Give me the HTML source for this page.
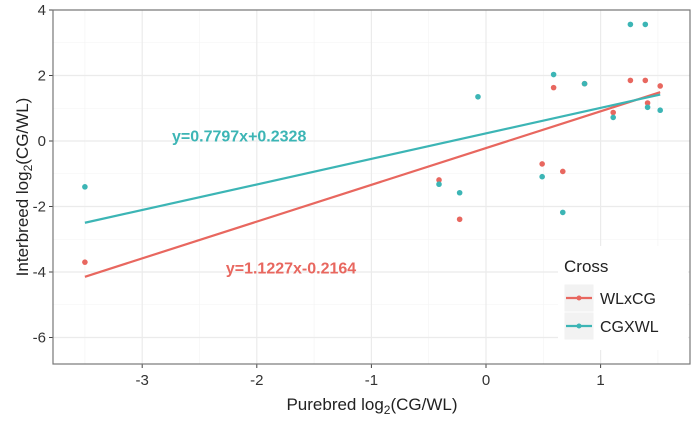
<!DOCTYPE html>
<html><head><meta charset="utf-8"><style>
body{margin:0;background:#fff;font-family:"Liberation Sans",sans-serif}
svg text{font-family:"Liberation Sans",sans-serif}
</style></head><body>
<svg id="c" width="694" height="418" xmlns="http://www.w3.org/2000/svg"></svg>
<script>
const xs=[-3.5,-0.41,-0.23,-0.07,0.49,0.59,0.67,0.86,1.11,1.26,1.39,1.41,1.52];
const wl=[-3.7,-1.19,-2.39,null,-0.70,1.63,-0.93,1.75,0.87,1.85,1.85,1.16,1.68];
const cg=[-1.4,-1.32,-1.58,1.35,-1.09,2.03,-2.18,1.75,0.72,3.56,3.56,1.03,0.94];
const xTicks=[-3,-2,-1,0,1];
const yTicks=[4,2,0,-2,-4,-6];
const fits=[{name:'WLxCG',m:1.1227,b:-0.2164,color:'#e8675f',label:'y=1.1227x-0.2164',lx:-2.27,ly:-4.05},
            {name:'CGXWL',m:0.7797,b:0.2328,color:'#3cb5b5',label:'y=0.7797x+0.2328',lx:-2.74,ly:-0.02}];
const L=53,R=690,T=10,B=364;
const X=v=>486+v*114.6, Y=v=>141-v*32.75;
const svg=document.getElementById('c');const NS='http://www.w3.org/2000/svg';
function mk(t,a,txt){const e=document.createElementNS(NS,t);for(const k in a)e.setAttribute(k,a[k]);if(txt!=null)e.textContent=txt;svg.appendChild(e);return e;}
let e=mk('rect',{x:L,y:T,width:R-L,height:B-T,fill:'#fff'});

[-3.5,-2.5,-1.5,-0.5,0.5,1.5].forEach(v=>{mk('line',{x1:X(v),x2:X(v),y1:T,y2:B,stroke:'#f3f3f3','stroke-width':0.6});});
[3,1,-1,-3,-5].forEach(v=>{mk('line',{x1:L,x2:R,y1:Y(v),y2:Y(v),stroke:'#f3f3f3','stroke-width':0.6});});
xTicks.forEach(v=>{e=mk('line',{x1:X(v),x2:X(v),y1:T,y2:B,stroke:'#ebebeb','stroke-width':1.2});
 
 mk('line',{x1:X(v),x2:X(v),y1:B,y2:B+4,stroke:'#444'});
 e=mk('text',{x:X(v),y:B+21,'text-anchor':'middle','font-size':15,fill:'#333'},v);
 });
yTicks.forEach(v=>{e=mk('line',{x1:L,x2:R,y1:Y(v),y2:Y(v),stroke:'#ebebeb','stroke-width':1.2});
 
 mk('line',{x1:L-4,x2:L,y1:Y(v),y2:Y(v),stroke:'#444'});
 e=mk('text',{x:L-7,y:Y(v)+5,'text-anchor':'end','font-size':15,fill:'#333'},v);
 });
const minX=Math.min(...xs),maxX=Math.max(...xs);
fits.forEach(f=>{e=mk('line',{x1:X(minX),y1:Y(f.m*minX+f.b),x2:X(maxX),y2:Y(f.m*maxX+f.b),stroke:f.color,'stroke-width':2.2});
 
 e=mk('text',{x:X(f.lx),y:Y(f.ly),'font-size':16,'font-weight':'bold',fill:f.color},f.label);
 });
[[wl,fits[0].color,'point-wlxcg'],[cg,fits[1].color,'point-cgxwl']].forEach(([arr,col,nm])=>{
 arr.forEach((v,i)=>{if(v==null)return;e=mk('circle',{cx:X(xs[i]),cy:Y(v),r:2.8,fill:col});
 });});
e=mk('rect',{x:L,y:T,width:R-L,height:B-T,fill:'none',stroke:'#777','stroke-width':1.2});

e=mk('text',{x:372,y:410,'text-anchor':'middle','font-size':17,fill:'#222'});

e.innerHTML='Purebred log<tspan font-size="12" dy="4">2</tspan><tspan dy="-4">(CG/WL)</tspan>';
e=mk('text',{transform:'translate(28,187) rotate(-90)','text-anchor':'middle','font-size':17,fill:'#222'});

e.innerHTML='Interbreed log<tspan font-size="12" dy="4">2</tspan><tspan dy="-4">(CG/WL)</tspan>';
e=mk('rect',{x:558,y:246,width:130,height:104,fill:'#fff'});

e=mk('text',{x:564,y:272,'font-size':17,fill:'#222'},'Cross');

fits.forEach((f,i)=>{const y=298+i*28;
 mk('rect',{x:564,y:y-14,width:30,height:28,fill:'#f2f2f2',stroke:'#fff'});
 mk('line',{x1:566,x2:592,y1:y,y2:y,stroke:f.color,'stroke-width':2.2});
 mk('circle',{cx:579,cy:y,r:2.5,fill:f.color});
 e=mk('text',{x:600,y:y+6,'font-size':16,fill:'#222'},f.name);
 });
</script>
</body></html>
